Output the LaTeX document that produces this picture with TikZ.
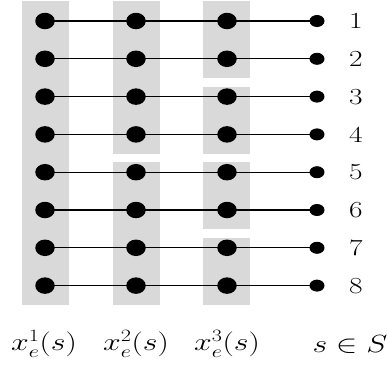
\documentclass[tikz,border=0pt]{standalone}
\usepackage{graphicx}
\usetikzlibrary{shapes.geometric}
\definecolor{shade}{HTML}{D9D9D9}
\newcommand{\wide}[1]{\scalebox{1.28}[1]{#1}}
\begin{document}
\begin{tikzpicture}[x=1pt,y=-1pt,
  bigdot/.style={ellipse,fill=black,minimum width=19.5pt,minimum height=16.5pt,inner sep=0pt},
  smalldot/.style={ellipse,fill=black,minimum width=15pt,minimum height=12pt,inner sep=0pt},
  band/.style={fill=shade,draw=none},
  link/.style={line width=1.2pt,black},
  lab/.style={font=\fontsize{23}{27}\selectfont,inner sep=0pt}]
\useasboundingbox (0,0) rectangle (389,367);
% shaded groups
\fill[band] (22,1.3) rectangle (68.5,304.7);
\fill[band] (113,1.3) rectangle (159.7,153.7);
\fill[band] (113,162) rectangle (159.7,304.7);
\fill[band] (203.3,1.3) rectangle (250,77.7);
\fill[band] (203.3,86.7) rectangle (250,153.7);
\fill[band] (203.3,162) rectangle (250,228.7);
\fill[band] (203.3,237.7) rectangle (250,304.7);
\foreach \i in {1,...,8}{
  \pgfmathsetmacro{\yy}{21+37.8*(\i-1)}
  \coordinate (a\i) at (45,\yy);
  \coordinate (r\i) at (317,\yy);
  \draw[link] (a\i) -- (r\i);
  \node[bigdot] (p\i) at (45,\yy) {};
  \node[bigdot] (q\i) at (136,\yy) {};
  \node[bigdot] (t\i) at (227,\yy) {};
  \node[smalldot] (s\i) at (r\i) {};
  \node[lab] (n\i) at (356,\yy) {\wide{\i}};
}
\node[lab] (l1) at (44,344) {\wide{$x_e^1(s)$}};
\node[lab] (l2) at (136,344) {\wide{$x_e^2(s)$}};
\node[lab] (l3) at (227,344) {\wide{$x_e^3(s)$}};
\node[lab] (l4) at (350,344) {\wide{$s\in S$}};
\end{tikzpicture}
\end{document}
